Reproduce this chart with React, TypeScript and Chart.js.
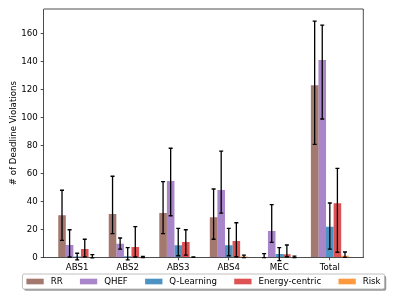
import React, { useEffect, useRef } from "react";
import { Chart, registerables } from "chart.js";

Chart.register(...registerables);

const categories = ["ABS1", "ABS2", "ABS3", "ABS4", "MEC", "Total"];
const seriesNames = ["RR", "QHEF", "Q-Learning", "Energy-centric", "Risk"];

const rrValues = [30, 31, 31.6, 28.6, 0.2, 122.9];
const rrLow = [12.1, 16.9, 16.9, 12.9, -0.2, 80.7];
const rrHigh = [47.9, 57.9, 54, 48.8, 2.6, 168.8];

const qhefValues = [8.8, 9.7, 54.5, 48.1, 18.8, 140.9];
const qhefLow = [0.2, 5.9, 29.7, 31.6, 10.7, 98.8];
const qhefHigh = [19.7, 13.8, 77.9, 75.9, 37.6, 165.9];

const qlValues = [0.5, 0.8, 8.6, 8.6, 2.4, 21.9];
const qlLow = [-1.9, -1.9, 1.1, 1.1, -2.4, 5.9];
const qlHigh = [2.9, 6.9, 20.7, 20.7, 6.9, 38.8];

const ecValues = [5.9, 7.4, 10.9, 11.6, 2.1, 38.6];
const ecLow = [0.3, 0.2, 1.6, 0.4, 0.4, 3.6];
const ecHigh = [12.9, 21.9, 19.7, 24.7, 8.8, 63.6];

const riskValues = [0.3, 0.2, 0.1, 0.5, 0.3, 1.1];
const riskLow = [-0.4, -0.2, 0, -0.3, -0.2, 0];
const riskHigh = [1.9, 0.7, 0.3, 1.6, 0.9, 3.8];

const yTickValues = [0, 20, 40, 60, 80, 100, 120, 140, 160];
const yMax = 177.4;
const xMin = -0.6625;
const xMax = 5.6625;

const seriesValues = [rrValues, qhefValues, qlValues, ecValues, riskValues];
const seriesLow = [rrLow, qhefLow, qlLow, ecLow, riskLow];
const seriesHigh = [rrHigh, qhefHigh, qlHigh, ecHigh, riskHigh];
const seriesColors = [
  "rgba(140,86,75,0.8)",
  "rgba(148,103,189,0.8)",
  "rgba(31,119,180,0.8)",
  "rgba(214,39,40,0.8)",
  "rgba(255,127,14,0.8)",
];

const FONT_FAMILY = "'DejaVu Sans'";
const FS = 8.65;

const errorBarPlugin = {
  id: "errorBars",
  afterDatasetsDraw(chart: any) {
    const ctx = chart.ctx;
    const ys = chart.scales.y;
    const cap = 2;
    ctx.save();
    ctx.strokeStyle = "#000";
    ctx.lineWidth = 1.3;
    chart.data.datasets.forEach((_ds: any, di: number) => {
      const meta = chart.getDatasetMeta(di);
      meta.data.forEach((el: any, i: number) => {
        const x = el.x;
        const yl = ys.getPixelForValue(seriesLow[di][i]);
        const yh = ys.getPixelForValue(seriesHigh[di][i]);
        ctx.beginPath();
        ctx.moveTo(x, yl);
        ctx.lineTo(x, yh);
        ctx.moveTo(x - cap, yl);
        ctx.lineTo(x + cap, yl);
        ctx.moveTo(x - cap, yh);
        ctx.lineTo(x + cap, yh);
        ctx.stroke();
      });
    });
    ctx.restore();
  },
};

const framePlugin = {
  id: "frameAndLegend",
  afterDraw(chart: any) {
    const ctx = chart.ctx;
    const ca = chart.chartArea;
    ctx.save();
    ctx.strokeStyle = "#000";
    ctx.lineWidth = 0.7;
    ctx.beginPath();
    ctx.moveTo(ca.left, ca.top);
    ctx.lineTo(ca.right, ca.top);
    ctx.lineTo(ca.right, ca.bottom);
    ctx.stroke();

    ctx.font = `${FS}px ${FONT_FAMILY}`;
    const handleW = 2 * FS;
    const handleH = 0.65 * FS;
    const textPad = 0.8 * FS;
    const colSp = 2 * FS;
    const border = 0.4 * FS;
    const widths = seriesNames.map((n) => handleW + textPad + ctx.measureText(n).width);
    const total = widths.reduce((a, b) => a + b, 0) + colSp * (seriesNames.length - 1) + 2 * border + 1;
    const cx = (ca.left + ca.right) / 2;
    const left = cx - total / 2;
    const top = ca.bottom + 16.7;
    const h = 15;
    const r = 1.7;
    const rr = (x: number, y: number, w: number, hh: number) => {
      ctx.beginPath();
      ctx.moveTo(x + r, y);
      ctx.lineTo(x + w - r, y);
      ctx.arcTo(x + w, y, x + w, y + r, r);
      ctx.lineTo(x + w, y + hh - r);
      ctx.arcTo(x + w, y + hh, x + w - r, y + hh, r);
      ctx.lineTo(x + r, y + hh);
      ctx.arcTo(x, y + hh, x, y + hh - r, r);
      ctx.lineTo(x, y + r);
      ctx.arcTo(x, y, x + r, y, r);
      ctx.closePath();
    };
    rr(left + 1.7, top + 1.7, total, h);
    ctx.fillStyle = "rgba(0,0,0,0.4)";
    ctx.fill();
    rr(left, top, total, h);
    ctx.fillStyle = "#fff";
    ctx.fill();
    ctx.strokeStyle = "#b0b0b0";
    ctx.lineWidth = 0.8;
    ctx.stroke();

    const midY = top + h / 2;
    let x = left + border + 0.5;
    ctx.textBaseline = "middle";
    ctx.textAlign = "left";
    seriesNames.forEach((n, i) => {
      ctx.fillStyle = seriesColors[i];
      ctx.fillRect(x, midY - handleH / 2, handleW, handleH);
      ctx.fillStyle = "#000";
      ctx.fillText(n, x + handleW + textPad, midY + 0.5);
      x += widths[i] + colSp;
    });
    ctx.restore();
  },
};

export default function App() {
  const canvasRef = useRef<HTMLCanvasElement | null>(null);

  useEffect(() => {
    const canvas = canvasRef.current;
    if (!canvas) return;
    const datasets = seriesNames.map((name, si) => ({
      label: name,
      data: seriesValues[si].map((v, i) => ({ x: i, y: v })),
      backgroundColor: seriesColors[si],
      borderWidth: 0,
      categoryPercentage: 0.75,
      barPercentage: 1.0,
    }));
    const chart = new Chart(canvas, {
      type: "bar",
      data: { datasets },
      plugins: [errorBarPlugin, framePlugin],
      options: {
        animation: false,
        responsive: false,
        devicePixelRatio: 1,
        layout: { padding: { top: 9, right: 35.7, bottom: 0, left: 0 } },
        plugins: {
          legend: { display: false },
          tooltip: { enabled: false },
        },
        scales: {
          x: {
            type: "linear",
            min: xMin,
            max: xMax,
            offset: false,
            afterFit: (scale: any) => {
              scale.height = 41.7;
            },
            afterBuildTicks: (scale: any) => {
              scale.ticks = categories.map((_c, i) => ({ value: i }));
            },
            ticks: {
              callback: (v: any) => categories[Math.round(Number(v))] ?? "",
              color: "#000",
              font: { family: "DejaVu Sans", size: FS },
              padding: 2,
              maxRotation: 0,
              autoSkip: false,
            },
            grid: {
              display: true,
              offset: false,
              drawOnChartArea: false,
              drawTicks: true,
              tickLength: 3,
              color: "#000",
              lineWidth: 0.7,
            },
            border: { display: true, color: "#000", width: 0.7 },
          },
          y: {
            type: "linear",
            min: 0,
            max: yMax,
            afterFit: (scale: any) => {
              scale.width = 43.7;
            },
            afterBuildTicks: (scale: any) => {
              scale.ticks = yTickValues.map((v) => ({ value: v }));
            },
            ticks: {
              color: "#000",
              font: { family: "DejaVu Sans", size: FS },
              padding: 3,
            },
            grid: {
              display: true,
              drawOnChartArea: false,
              drawTicks: true,
              tickLength: 3,
              color: "#000",
              lineWidth: 0.7,
            },
            border: { display: true, color: "#000", width: 0.7 },
            title: {
              display: true,
              text: "# of Deadline Violations",
              color: "#000",
              font: { family: "DejaVu Sans", size: FS },
              padding: { top: 8.5, bottom: 0 },
            },
          },
        },
      } as any,
    });
    return () => chart.destroy();
  }, []);

  return (
    <div style={{ position: "absolute", left: 0, top: 0, width: 399, height: 299, background: "#fff" }}>
      <canvas ref={canvasRef} width={399} height={299} style={{ display: "block", width: 399, height: 299 }} />
    </div>
  );
}
